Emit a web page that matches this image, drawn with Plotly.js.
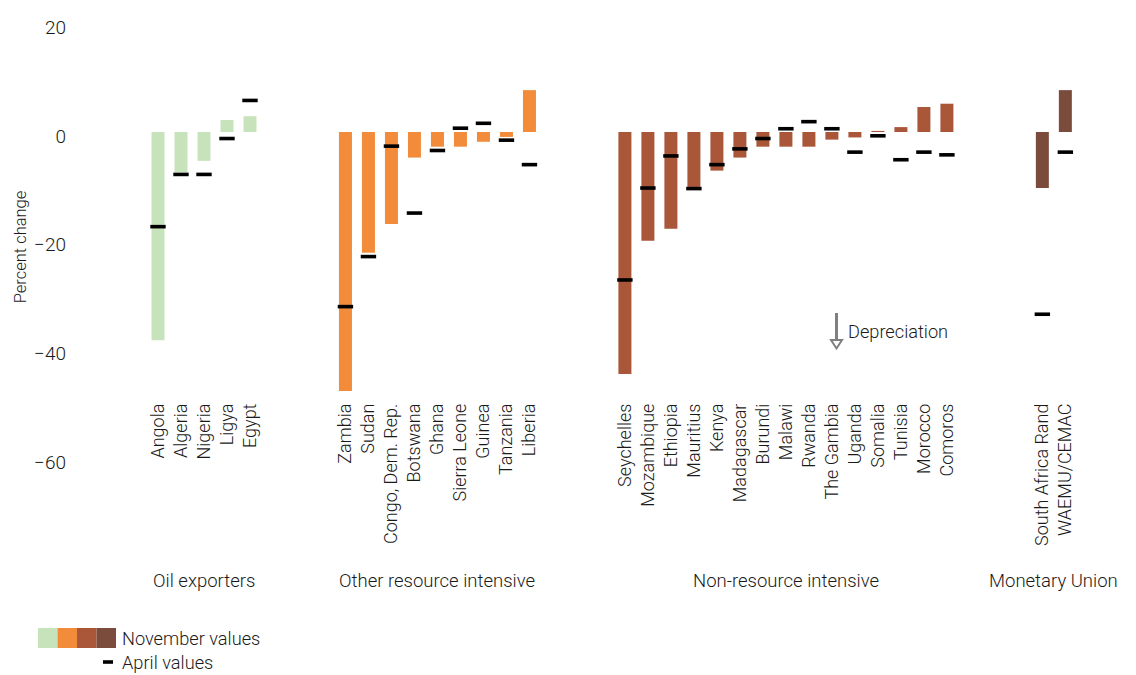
<!DOCTYPE html>
<html>
<head>
<meta charset="utf-8">
<script src="https://cdn.plot.ly/plotly-3.0.1.min.js"></script>
<style>html,body{margin:0;padding:0;background:#fff;}#chart{width:1136px;height:675px;}</style>
</head>
<body>
<div id="chart"></div>
<script>
// ---- Data (percent change vs. US dollar) ----
const groupNames = ["Oil exporters", "Other resource intensive", "Non-resource intensive", "Monetary Union"];

const oilCountries = ["Angola", "Algeria", "Nigeria", "Ligya", "Egypt"];
const oilNovember  = [-38.3, -7.4, -5.3, 2.2, 2.9];
const oilApril     = [-17.4, -7.8, -7.8, -1.2, 5.8];

const otherCountries = ["Zambia", "Sudan", "Congo, Dem. Rep.", "Botswana", "Ghana", "Sierra Leone", "Guinea", "Tanzania", "Liberia"];
const otherNovember  = [-47.6, -22.2, -16.9, -4.7, -2.7, -2.7, -1.8, -0.9, 7.7];
const otherApril     = [-32.1, -22.9, -2.6, -14.9, -3.4, 0.7, 1.6, -1.5, -6.0];

const nonCountries = ["Seychelles", "Mozambique", "Ethiopia", "Mauritius", "Kenya", "Madagascar", "Burundi", "Malawi", "Rwanda", "The Gambia", "Uganda", "Somalia", "Tunisia", "Morocco", "Comoros"];
const nonNovember  = [-44.5, -20.0, -17.8, -10.1, -7.1, -4.7, -2.7, -2.7, -2.7, -1.4, -1.0, 0.2, 0.9, 4.6, 5.2];
const nonApril     = [-27.2, -10.3, -4.4, -10.4, -6.0, -3.1, -1.2, 0.6, 1.9, 0.6, -3.7, -0.7, -5.1, -3.7, -4.2];

const muCountries = ["South Africa Rand", "WAEMU/CEMAC"];
const muNovember  = [-10.3, 7.7];
const muApril     = [-33.5, -3.7];

const yTickVals = [-60, -40, -20, 0, 20];
const yTickText = ["\u221260", "\u221240", "\u221220", "0", "20"];

// ---- Styling ----
const groupColors = ["#c7e3bb", "#f28c3a", "#a95639", "#7b4b3c"];
const FONT = "Roboto, 'Liberation Sans', sans-serif";
const TXT = "#1a1a1a";
const WEIGHT = 300;

// ---- Layout helpers ----
const W = 1136, H = 675;
const M = {l: 70, r: 6, t: 12, b: 193};
const plotW = W - M.l - M.r, plotH = H - M.t - M.b;
const GAP_EXTRA = 3.15;
const groups = [
  [oilCountries, oilNovember, oilApril],
  [otherCountries, otherNovember, otherApril],
  [nonCountries, nonNovember, nonApril],
  [muCountries, muNovember, muApril]
];

const traces = [];
const tickVals = [], tickText = [], groupCenters = [];
let idx = 0;
groups.forEach((g, gi) => {
  const xs = g[0].map((_, i) => idx + i + gi * GAP_EXTRA);
  idx += g[0].length;
  xs.forEach((x, i) => { tickVals.push(x); tickText.push(g[0][i]); });
  groupCenters.push((xs[0] + xs[xs.length - 1]) / 2);
  traces.push({
    type: "bar", x: xs, y: g[1], width: 0.565,
    marker: {color: groupColors[gi], line: {width: 0}},
    showlegend: false, hoverinfo: "skip"
  });
});
groups.forEach((g, gi) => {
  traces.push({
    type: "scatter", mode: "markers", x: traces[gi].x, y: g[2],
    marker: {symbol: "line-ew", size: 11, color: "#000", line: {color: "#000", width: 3.6}},
    showlegend: false, hoverinfo: "skip", cliponaxis: false
  });
});

// x range so that 1 unit = 23px and first bar centred at 158px
const pxPerUnit = 23;
const xmin = -(158 - M.l) / pxPerUnit;
const xmax = xmin + plotW / pxPerUnit;
// y range: zero at 132px, 5.44 px per unit
const pxPerY = 5.44;
const ymax = (132 - M.t) / pxPerY;
const ymin = -(M.t + plotH - 132) / pxPerY;

const px = v => (v - M.l) / plotW;           // pixel x -> paper
const py = v => (M.t + plotH - v) / plotH;   // pixel y -> paper

const txtFont = (s) => ({family: FONT, size: s, color: TXT, weight: WEIGHT});

const annotations = groupNames.map((n, i) => ({
  text: n, x: groupCenters[i], xref: "x", y: py(581), yref: "paper",
  xanchor: "center", yanchor: "middle", showarrow: false,
  font: txtFont(18.5)
}));
annotations.push({
  text: "Depreciation", x: px(846), xref: "paper", y: py(331), yref: "paper",
  xanchor: "left", yanchor: "middle", showarrow: false, font: txtFont(18.2)
});
annotations.push({
  text: "November values", x: px(120), xref: "paper", y: py(638), yref: "paper",
  xanchor: "left", yanchor: "middle", showarrow: false, font: txtFont(18.2)
});
annotations.push({
  text: "April values", x: px(120), xref: "paper", y: py(662), yref: "paper",
  xanchor: "left", yanchor: "middle", showarrow: false, font: txtFont(18.2)
});

const shapes = [];
groupColors.forEach((c, i) => {
  shapes.push({type: "rect", xref: "paper", yref: "paper",
    x0: px(38 + i * 19.5), x1: px(38 + (i + 1) * 19.5), y0: py(648), y1: py(628),
    fillcolor: c, line: {width: 0}});
});
shapes.push({type: "line", xref: "paper", yref: "paper",
  x0: px(103), x1: px(113), y0: py(662), y1: py(662), line: {color: "#000", width: 3.6}});
shapes.push({type: "line", xref: "paper", yref: "paper",
  x0: px(836.5), x1: px(836.5), y0: py(313), y1: py(340), line: {color: "#808080", width: 3}});
shapes.push({type: "path", xref: "paper", yref: "paper",
  path: `M ${px(831)} ${py(340)} L ${px(842)} ${py(340)} L ${px(836.5)} ${py(348.5)} Z`,
  fillcolor: "#ffffff", line: {color: "#808080", width: 2}});

const layout = {
  width: W, height: H,
  margin: M,
  paper_bgcolor: "#fff", plot_bgcolor: "#fff",
  font: {family: FONT, size: 17, color: TXT, weight: WEIGHT},
  barmode: "overlay",
  showlegend: false,
  xaxis: {
    range: [xmin, xmax], anchor: "free", position: py(399),
    tickmode: "array", tickvals: tickVals, ticktext: tickText, tickangle: -90,
    showgrid: false, zeroline: false, showline: false, ticks: "",
    tickfont: txtFont(18), automargin: false
  },
  yaxis: {
    range: [ymin, ymax], tickmode: "array", tickvals: yTickVals, ticktext: yTickText,
    showgrid: false, zeroline: false, showline: false, ticks: "",
    ticklabelshift: 4, ticklabelstandoff: 3,
    tickfont: txtFont(19), automargin: false,
    title: {text: "Percent change", standoff: 3, font: txtFont(16.5)}
  },
  annotations: annotations,
  shapes: shapes
};

Plotly.newPlot("chart", traces, layout, {displayModeBar: false, staticPlot: true});
</script>
</body>
</html>
